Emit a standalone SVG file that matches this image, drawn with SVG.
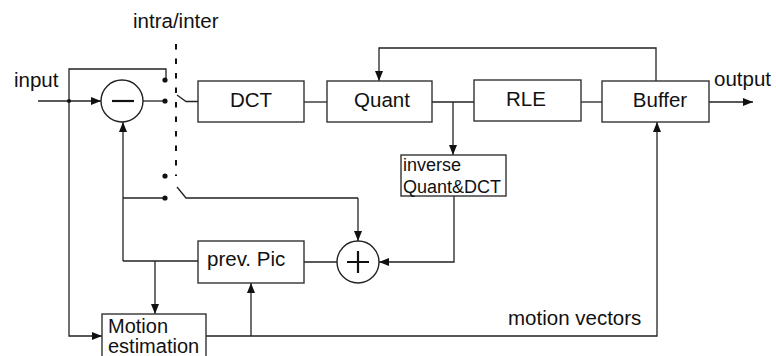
<svg xmlns="http://www.w3.org/2000/svg" width="776" height="356" viewBox="0 0 776 356">
<defs>
<marker id="ah" viewBox="0 0 10 8" refX="10" refY="4" markerWidth="10" markerHeight="8" markerUnits="userSpaceOnUse" orient="auto">
<path d="M0,0 L10,4 L0,8 Z" fill="#111"/>
</marker>
<style>
.box{fill:#fff;stroke:#333;stroke-width:1.4}
.ln{fill:none;stroke:#222;stroke-width:1.3}
.ar{fill:none;stroke:#222;stroke-width:1.3;marker-end:url(#ah)}
.t{font-family:"Liberation Sans",Arial,sans-serif;font-size:20.5px;fill:#111}
.tm{font-family:"Liberation Sans",Arial,sans-serif;font-size:20px;fill:#111}
.ts{font-family:"Liberation Sans",Arial,sans-serif;font-size:18px;fill:#111}
.dot{fill:#111}
.sym{stroke:#111;stroke-width:2.2;fill:none}
</style>
</defs>
<rect width="776" height="356" fill="#fff"/>

<g id="connectors">
<path class="ar" d="M38,101 H101"/>
<path class="ln" d="M69,101 V69 H166 V80"/>
<path class="ar" d="M69,101 V336 H102"/>
<path class="ln" d="M143,101 H165"/>
<path class="ln" d="M177,95 L186,101.5 H198"/>
<path class="ln" d="M177,187 L186,198 H358"/>
<path class="ar" d="M358,198 V241"/>
<path class="ln" d="M165,198 H123"/>
<path class="ar" d="M123,261 V122"/>
<path class="ln" d="M123,261 H198"/>
<path class="ar" d="M155,261 V314"/>
<path class="ln" d="M304,262 H337"/>
<path class="ln" d="M304,102 H327"/>
<path class="ln" d="M432,102 H474"/>
<path class="ln" d="M581,102 H602"/>
<path class="ar" d="M709,102 H753"/>
<path class="ar" d="M453,102 V155"/>
<path class="ar" d="M454,196 V262 H379"/>
<path class="ar" d="M656,81 V48 H379 V81"/>
<path class="ar" d="M206,336 H657 V122"/>
<path class="ar" d="M251,336 V283"/>
<path d="M176,44 V176" stroke="#111" stroke-width="2" stroke-dasharray="5.5,9"/>
<circle class="dot" cx="69" cy="101" r="2"/>
<circle class="dot" cx="165" cy="80" r="2.6"/>
<circle class="dot" cx="165" cy="101" r="2.6"/>
<circle class="dot" cx="165" cy="176" r="2.6"/>
<circle class="dot" cx="165" cy="198" r="2.6"/>
</g>

<g id="labels">
<text class="t" x="14" y="87">input</text>
<text class="t" x="133" y="28">intra/inter</text>
<text class="t" x="714" y="86">output</text>
<text class="t" x="508" y="325">motion vectors</text>
</g>

<g id="subtract">
<circle cx="122" cy="101" r="21" fill="#fff" stroke="#222" stroke-width="1.4"/>
<path class="sym" d="M112,101 H134" stroke-width="2.6"/>
</g>

<g id="add">
<circle cx="358" cy="262" r="21" fill="#fff" stroke="#222" stroke-width="1.4"/>
<path class="sym" d="M347,262 H369 M358,251 V273"/>
</g>

<g id="dct">
<rect class="box" x="198" y="81" width="106" height="41"/>
<text class="t" x="251" y="107" text-anchor="middle">DCT</text>
</g>

<g id="quant">
<rect class="box" x="327" y="81" width="105" height="41"/>
<text class="t" x="382" y="107" text-anchor="middle">Quant</text>
</g>

<g id="rle">
<rect class="box" x="474" y="80" width="107" height="41"/>
<text class="t" x="526" y="106" text-anchor="middle">RLE</text>
</g>

<g id="buffer">
<rect class="box" x="602" y="81" width="107" height="41"/>
<text class="t" x="660" y="107" text-anchor="middle">Buffer</text>
</g>

<g id="inverse">
<rect class="box" x="401" y="155" width="105" height="41"/>
<text class="ts" x="403" y="171">inverse</text>
<text class="ts" x="403" y="193">Quant&amp;DCT</text>
</g>

<g id="prevpic">
<rect class="box" x="198" y="241" width="106" height="42"/>
<text class="t" x="207" y="266">prev. Pic</text>
</g>

<g id="motion">
<rect class="box" x="102" y="314" width="104" height="46"/>
<text class="tm" x="108" y="333">Motion</text>
<text class="tm" x="108" y="353">estimation</text>
</g>
</svg>
